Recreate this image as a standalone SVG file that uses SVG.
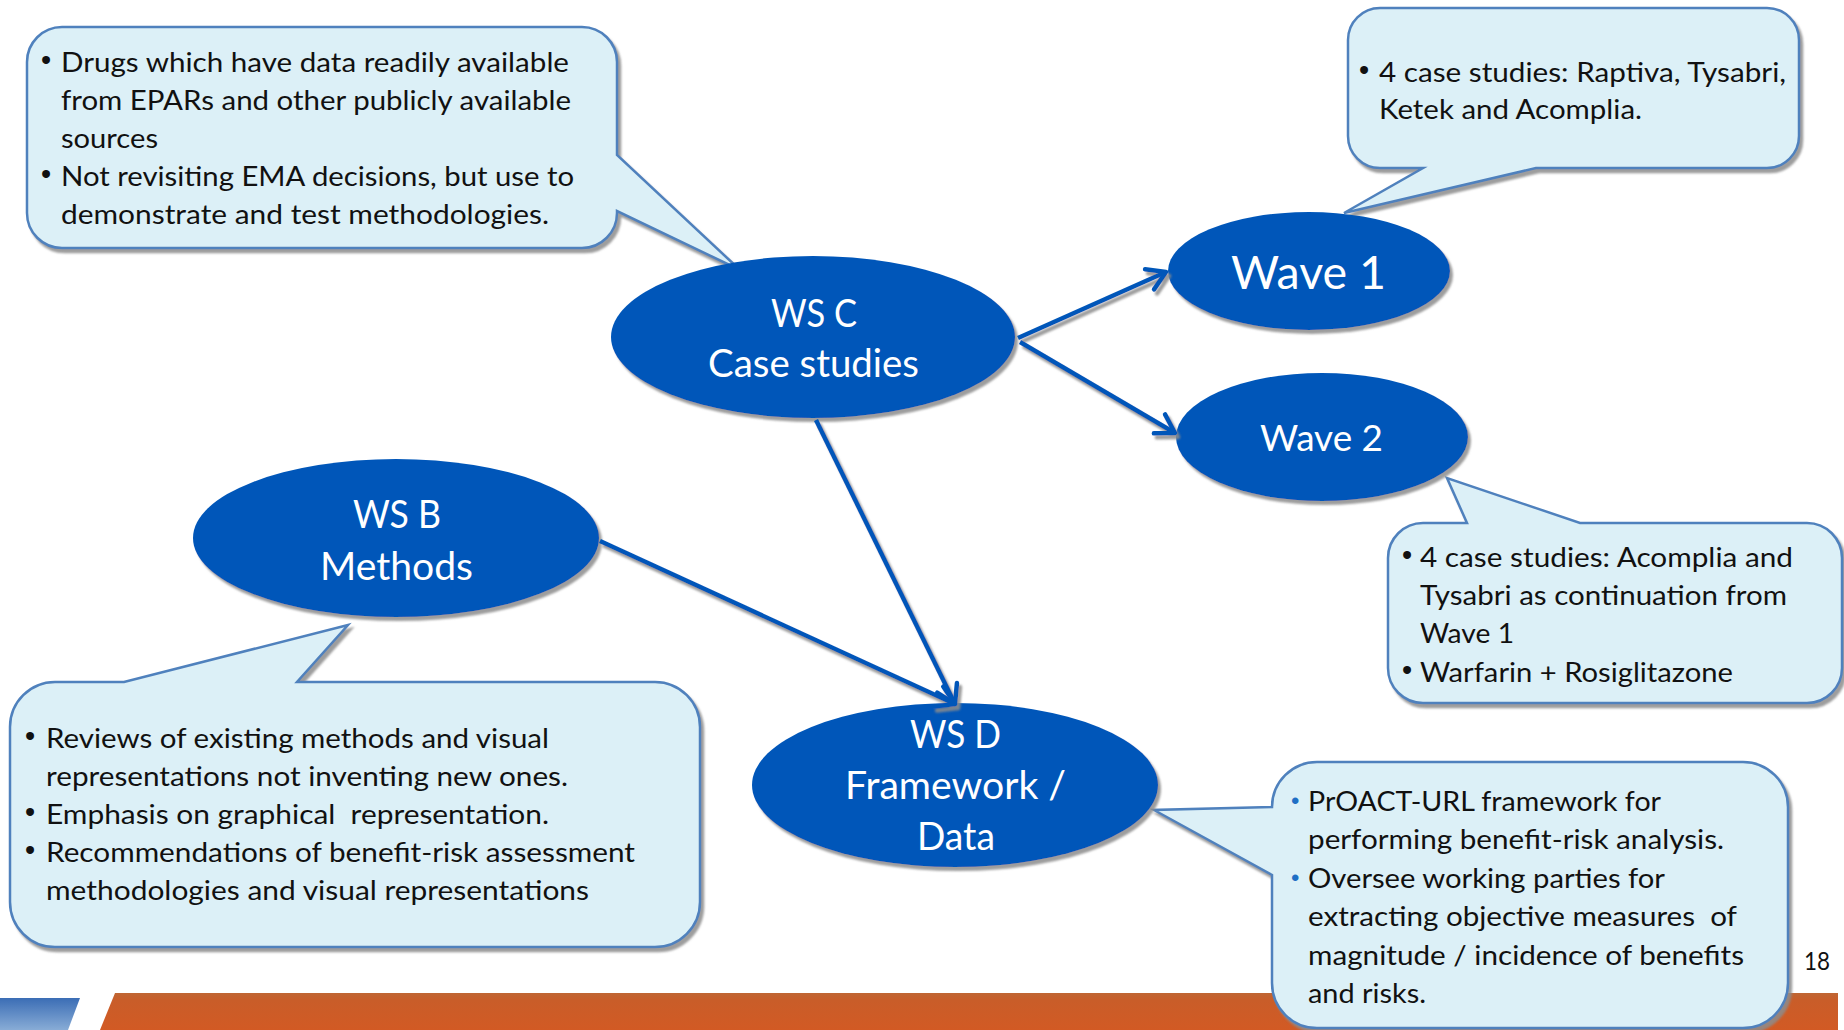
<svg xmlns="http://www.w3.org/2000/svg" width="1844" height="1030" viewBox="0 0 1844 1030">
<style>
.call{fill:#dcf0f7;stroke:#4f81bd;stroke-width:2.5}
.ell{fill:#0657b9}
.ct{font-family:Lato,"Liberation Sans",sans-serif;font-size:27px;fill:#111}
.bu{font-family:"Liberation Sans",sans-serif;font-size:29px;fill:#111}
.et{font-family:Lato,"Liberation Sans",sans-serif;font-size:38px;fill:#fff}
.conn{stroke:#0657b9;stroke-width:4.5;fill:none;marker-end:url(#ah)}
.bl{fill:#1f6fc5}
</style>
<defs>
<filter id="sh" filterUnits="userSpaceOnUse" x="0" y="0" width="1844" height="1030">
<feGaussianBlur in="SourceAlpha" stdDeviation="1"/>
<feOffset dx="3" dy="4" result="o"/>
<feFlood flood-color="#8c8c8c" flood-opacity="0.85"/>
<feComposite in2="o" operator="in"/>
<feMerge><feMergeNode/><feMergeNode in="SourceGraphic"/></feMerge>
</filter>
<marker id="ah" markerUnits="userSpaceOnUse" markerWidth="30" markerHeight="30" viewBox="0 0 30 30" refX="26" refY="15" orient="auto">
<path d="M8,4 L26,15 L8,26" fill="none" stroke="#0657b9" stroke-width="4.5" stroke-linecap="round" stroke-linejoin="round"/>
</marker>
<linearGradient id="og" x1="0" y1="0" x2="0" y2="1">
<stop offset="0" stop-color="#bf6634"/><stop offset="0.2" stop-color="#c95d29"/><stop offset="1" stop-color="#d25a24"/>
</linearGradient>
<linearGradient id="bg" x1="0" y1="0" x2="0" y2="1">
<stop offset="0" stop-color="#3b6db5"/><stop offset="1" stop-color="#88acd6"/>
</linearGradient>
</defs>

<g id="banner">
<polygon points="115,993 1838,993 1838,1030 100,1030" fill="url(#og)"/>
<polygon points="0,998 80,998 68,1030 0,1030" fill="url(#bg)"/>
</g>

<g id="callout-wsc" filter="url(#sh)">
<path class="call" d="M62,27 H582 A35 35 0 0 1 617 62 V155 L740 270 L617 211 V213 A35 35 0 0 1 582 248 H62 A35 35 0 0 1 27 213 V62 A35 35 0 0 1 62 27 Z"/>
</g>
<g id="callout-wave1" filter="url(#sh)">
<path class="call" d="M1380,8 H1767 A32 32 0 0 1 1799 40 V136 A32 32 0 0 1 1767 168 H1536 L1344 213 L1423 168 H1380 A32 32 0 0 1 1348 136 V40 A32 32 0 0 1 1380 8 Z"/>
</g>
<g id="callout-wave2" filter="url(#sh)">
<path class="call" d="M1423,523 H1467 L1447 478 L1580 523 H1807 A35 35 0 0 1 1842 558 V668 A35 35 0 0 1 1807 703 H1423 A35 35 0 0 1 1388 668 V558 A35 35 0 0 1 1423 523 Z"/>
</g>
<g id="callout-wsb" filter="url(#sh)">
<path class="call" d="M55,682 H124 L348 625 L297 682 H655 A45 45 0 0 1 700 727 V902 A45 45 0 0 1 655 947 H55 A45 45 0 0 1 10 902 V727 A45 45 0 0 1 55 682 Z"/>
</g>
<g id="callout-wsd" filter="url(#sh)">
<path class="call" d="M1317,762 H1743 A45 45 0 0 1 1788 807 V983 A45 45 0 0 1 1743 1028 H1317 A45 45 0 0 1 1272 983 V875 L1154 810 L1272 807 A45 45 0 0 1 1317 762 Z"/>
</g>

<g id="node-wsc">
<ellipse class="ell" cx="813" cy="337" rx="202" ry="81" filter="url(#sh)"/>
<text class="et" x="771" y="327" textLength="86" lengthAdjust="spacingAndGlyphs">WS C</text>
<text class="et" x="708" y="377" textLength="211" lengthAdjust="spacingAndGlyphs">Case studies</text>
</g>
<g id="node-wave1">
<ellipse class="ell" cx="1309" cy="271" rx="141" ry="59" filter="url(#sh)"/>
<text class="et" x="1231" y="289" style="font-size:47px" textLength="155" lengthAdjust="spacingAndGlyphs">Wave 1</text>
</g>
<g id="node-wave2">
<ellipse class="ell" cx="1322" cy="437" rx="146" ry="64" filter="url(#sh)"/>
<text class="et" x="1260" y="451" style="font-size:36px" textLength="123" lengthAdjust="spacingAndGlyphs">Wave 2</text>
</g>
<g id="node-wsb">
<ellipse class="ell" cx="396" cy="538" rx="203" ry="79" filter="url(#sh)"/>
<text class="et" x="353" y="528" textLength="88" lengthAdjust="spacingAndGlyphs">WS B</text>
<text class="et" x="320" y="580" textLength="153" lengthAdjust="spacingAndGlyphs">Methods</text>
</g>
<g id="node-wsd">
<ellipse class="ell" cx="955" cy="785" rx="203" ry="82" filter="url(#sh)"/>
<text class="et" x="910" y="748" textLength="91" lengthAdjust="spacingAndGlyphs">WS D</text>
<text class="et" x="845" y="799" textLength="221" lengthAdjust="spacingAndGlyphs">Framework /</text>
<text class="et" x="917" y="850" textLength="78" lengthAdjust="spacingAndGlyphs">Data</text>
</g>

<g id="connectors" filter="url(#sh)">
<line class="conn" x1="1018" y1="338" x2="1166" y2="272"/>
<line class="conn" x1="1020" y1="342" x2="1175" y2="433"/>
<line class="conn" x1="816" y1="420" x2="955" y2="704"/>
<line class="conn" x1="600" y1="541" x2="955" y2="704"/>
</g>

<g id="text-wsc">
<text class="bu" x="41" y="70">•</text>
<text class="ct" x="61" y="72" textLength="508" lengthAdjust="spacingAndGlyphs">Drugs which have data readily available</text>
<text class="ct" x="61" y="110" textLength="510" lengthAdjust="spacingAndGlyphs">from EPARs and other publicly available</text>
<text class="ct" x="61" y="148" textLength="97" lengthAdjust="spacingAndGlyphs">sources</text>
<text class="bu" x="41" y="184">•</text>
<text class="ct" x="61" y="186" textLength="513" lengthAdjust="spacingAndGlyphs">Not revisiting EMA decisions, but use to</text>
<text class="ct" x="61" y="224" textLength="488" lengthAdjust="spacingAndGlyphs">demonstrate and test methodologies.</text>
</g>
<g id="text-wave1">
<text class="bu" x="1359" y="80">•</text>
<text class="ct" x="1379" y="82" textLength="407" lengthAdjust="spacingAndGlyphs">4 case studies: Raptiva, Tysabri,</text>
<text class="ct" x="1379" y="119" textLength="263" lengthAdjust="spacingAndGlyphs">Ketek and Acomplia.</text>
</g>
<g id="text-wave2">
<text class="bu" x="1402" y="565">•</text>
<text class="ct" x="1420" y="567" textLength="373" lengthAdjust="spacingAndGlyphs">4 case studies: Acomplia and</text>
<text class="ct" x="1420" y="605" textLength="367" lengthAdjust="spacingAndGlyphs">Tysabri as continuation from</text>
<text class="ct" x="1420" y="643" textLength="94" lengthAdjust="spacingAndGlyphs">Wave 1</text>
<text class="bu" x="1402" y="680">•</text>
<text class="ct" x="1420" y="682" textLength="313" lengthAdjust="spacingAndGlyphs">Warfarin + Rosiglitazone</text>
</g>
<g id="text-wsb">
<text class="bu" x="25" y="746">•</text>
<text class="ct" x="46" y="748" textLength="503" lengthAdjust="spacingAndGlyphs">Reviews of existing methods and visual</text>
<text class="ct" x="46" y="786" textLength="522" lengthAdjust="spacingAndGlyphs">representations not inventing new ones.</text>
<text class="bu" x="25" y="822">•</text>
<text class="ct" x="46" y="824" style="white-space:pre" textLength="503" lengthAdjust="spacingAndGlyphs">Emphasis on graphical  representation.</text>
<text class="bu" x="25" y="860">•</text>
<text class="ct" x="46" y="862" textLength="589" lengthAdjust="spacingAndGlyphs">Recommendations of benefit-risk assessment</text>
<text class="ct" x="46" y="900" textLength="543" lengthAdjust="spacingAndGlyphs">methodologies and visual representations</text>
</g>
<g id="text-wsd">
<text class="bu bl" x="1291" y="809" style="font-size:24px">•</text>
<text class="ct" x="1308" y="811" textLength="353" lengthAdjust="spacingAndGlyphs">PrOACT-URL framework for</text>
<text class="ct" x="1308" y="849" textLength="416" lengthAdjust="spacingAndGlyphs">performing benefit-risk analysis.</text>
<text class="bu bl" x="1291" y="886" style="font-size:24px">•</text>
<text class="ct" x="1308" y="888" textLength="357" lengthAdjust="spacingAndGlyphs">Oversee working parties for</text>
<text class="ct" x="1308" y="926" style="white-space:pre" textLength="429" lengthAdjust="spacingAndGlyphs">extracting objective measures  of</text>
<text class="ct" x="1308" y="965" textLength="436" lengthAdjust="spacingAndGlyphs">magnitude / incidence of benefits</text>
<text class="ct" x="1308" y="1003" textLength="118" lengthAdjust="spacingAndGlyphs">and risks.</text>
</g>
<text class="ct" x="1804" y="970" style="font-size:25px" textLength="26" lengthAdjust="spacingAndGlyphs">18</text>
</svg>
